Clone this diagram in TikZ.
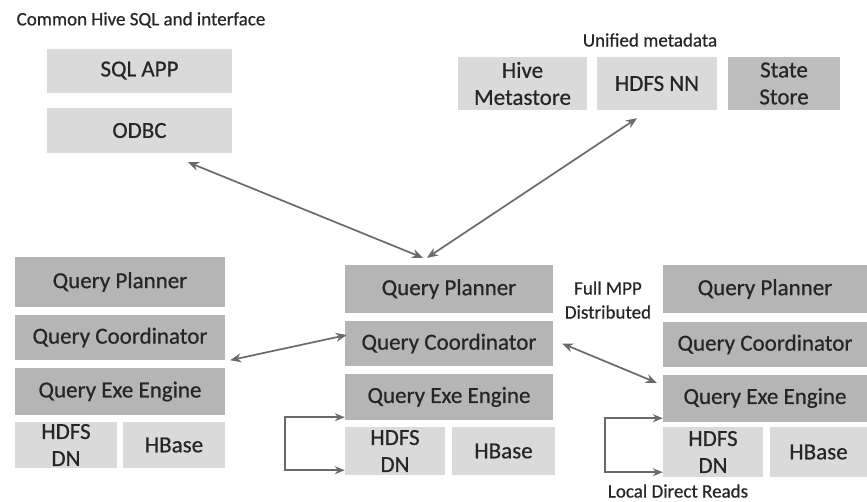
\documentclass[tikz,border=0pt]{standalone}
\usepackage{fontspec}
\setmainfont{Carlito}[FakeBold=0.6]
\usetikzlibrary{arrows.meta,calc}
\definecolor{lightbox}{HTML}{DADADA}
\definecolor{darkbox}{HTML}{B5B5B5}
\definecolor{midbox}{HTML}{BDBDBD}
\definecolor{txt}{HTML}{262626}
\definecolor{arr}{HTML}{6A6A6A}
\begin{document}
\begin{tikzpicture}[x=1pt,y=-1pt,
  box/.style={inner sep=0pt,align=center,text=txt,font=\fontsize{23}{27}\selectfont},
  lbox/.style={box,fill=lightbox},
  dbox/.style={box,fill=darkbox},
  lbl/.style={inner sep=0pt,align=center,text=txt,font=\fontsize{19}{24}\selectfont},
  link/.style={draw=arr,line width=1.7pt,{Stealth[length=11pt,width=9pt]}-{Stealth[length=11pt,width=9pt]}},
  loop/.style={draw=arr,line width=1.5pt,{Stealth[length=10pt,width=8pt]}-{Stealth[length=10pt,width=8pt]}}
]
\useasboundingbox (0,0) rectangle (867,501);
% top left
\node[lbl] (title) at (141,20) {Common Hive SQL and interface};
\node[lbox,minimum width=185pt,minimum height=44pt] (sqlapp) at (139.5,70.5) {SQL APP};
\node[lbox,minimum width=185pt,minimum height=45pt] (odbc) at (139.5,130.5) {ODBC};
% top right
\node[lbl] (unified) at (650,40) {Unified metadata};
\node[lbox,minimum width=129pt,minimum height=53pt] (hive) at (522.5,83.5) {Hive\\Metastore};
\node[lbox,minimum width=120pt,minimum height=53pt] (hdfsnn) at (657,83.5) {HDFS NN};
\node[box,fill=midbox,minimum width=112pt,minimum height=53pt] (state) at (784,83.5) {State\\Store};
% left column
\node[dbox,minimum width=210pt,minimum height=50pt] (lqp) at (120,282) {Query Planner};
\node[dbox,minimum width=210pt,minimum height=45pt] (lqc) at (120,337.5) {Query Coordinator};
\node[dbox,minimum width=210pt,minimum height=47pt] (lqe) at (120,391.5) {Query Exe Engine};
\node[lbox,minimum width=102pt,minimum height=46pt] (ldn) at (66,445) {HDFS\\DN};
\node[lbox,minimum width=102pt,minimum height=46pt] (lhb) at (174,445) {HBase};
% middle column
\node[dbox,minimum width=208pt,minimum height=48pt] (mqp) at (449,289) {Query Planner};
\node[dbox,minimum width=208pt,minimum height=45pt] (mqc) at (449,343.5) {Query Coordinator};
\node[dbox,minimum width=208pt,minimum height=46pt] (mqe) at (449,397) {Query Exe Engine};
\node[lbox,minimum width=100pt,minimum height=48pt] (mdn) at (395,451) {HDFS\\DN};
\node[lbox,minimum width=103pt,minimum height=48pt] (mhb) at (503.5,451) {HBase};
% right column
\node[dbox,minimum width=204pt,minimum height=48pt] (rqp) at (765,289) {Query Planner};
\node[dbox,minimum width=204pt,minimum height=45pt] (rqc) at (765,344.5) {Query Coordinator};
\node[dbox,minimum width=204pt,minimum height=47pt] (rqe) at (765,398) {Query Exe Engine};
\node[lbox,minimum width=100pt,minimum height=50pt] (rdn) at (713,452) {HDFS\\DN};
\node[lbox,minimum width=97pt,minimum height=50pt] (rhb) at (818.5,452) {HBase};
% labels
\node[lbl] (mpp) at (608,300) {Full MPP\\Distributed};
\node[lbl] (ldr) at (678,491) {Local Direct Reads};
% connectors
\draw[link] ($(odbc.south)+(48.5,9)$) -- ($(mqp.north)+(-26,-7)$);
\draw[link] ($(hdfsnn.south)+(-20,8)$) -- ($(mqp.north)+(-22,-7)$);
\draw[link] ($(lqc.south east)+(5,0)$) -- ($(mqc.west)+(2,-8.5)$);
\draw[link] ($(mqc.east)+(9,0)$) -- ($(rqe.north west)+(-6,8.5)$);
\draw[loop] ($(mqe.south west)+(0,-3)$) -- ++(-60,0) |- ($(mdn.south west)+(0,-5)$);
\draw[loop] ($(rqe.south west)+(0,-3.5)$) -- ++(-58,0) |- ($(rdn.south west)+(0,-5)$);
\end{tikzpicture}
\end{document}
